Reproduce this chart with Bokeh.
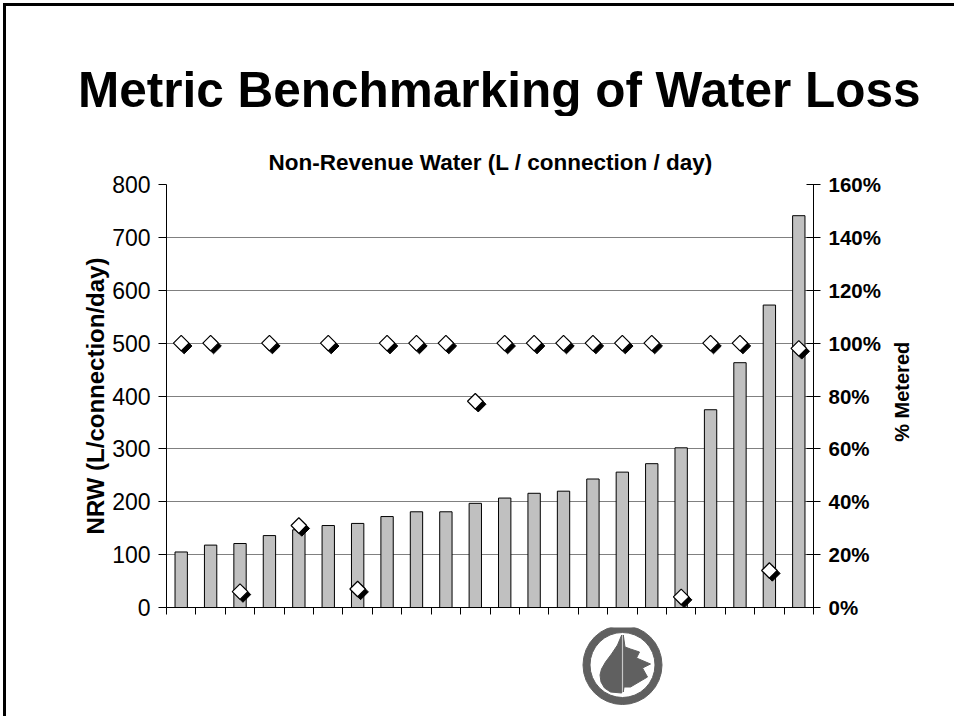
import math
import numpy as np
from bokeh.plotting import figure
from bokeh.models import (Range1d, LinearAxis, FixedTicker, ColumnDataSource, Title, Div,
                          PrintfTickFormatter, CustomJSTickFormatter)
from bokeh.core.properties import value
from bokeh.layouts import column, row
from bokeh.transform import dodge
from bokeh.embed import file_html
from bokeh.resources import INLINE

# ---- data ----
nrw = [105, 118, 121, 136, 147, 155, 159, 172, 181, 181, 197,
       207, 216, 220, 243, 256, 272, 302, 374, 463, 572, 741]
metered = [100, 100, 6, 100, 31, 100, 7, 100, 100, 100, 78,
           100, 100, 100, 100, 100, 100, 4, 100, 100, 14, 98]
nrw_ticks = [0, 100, 200, 300, 400, 500, 600, 700, 800]
pct_ticks = [0, 20, 40, 60, 80, 100, 120, 140, 160]

title_text = "Metric Benchmarking of Water Loss"
subtitle_text = "Non-Revenue Water (L / connection / day)"
left_label = "NRW (L/connection/day)"
right_label = "% Metered"

FONT = "Liberation Sans"
n = len(nrw)
src = ColumnDataSource(dict(x=np.arange(n) + 0.5, nrw=nrw, metered=metered))

TW = 948         # full width
TH = 110         # heading block
W = 878          # main figure
SW = TW - W      # strip carrying the right-hand axis title
H = 511
BL, BR, BT, BB = 160, 71, 68, 20

head = Div(text=title_text, width=TW, height=TH, margin=0,
           styles={"font-family": FONT, "font-size": "49.5px", "font-weight": "bold",
                   "color": "black", "line-height": "55px", "white-space": "nowrap",
                   "padding-left": "72px", "padding-top": "56px", "box-sizing": "border-box",
                   "overflow": "hidden"})

yr = Range1d(0, nrw_ticks[-1])
p = figure(width=W, height=H, x_range=Range1d(0, n), y_range=yr,
           output_backend="svg", toolbar_location=None,
           min_border_left=BL, min_border_right=BR, min_border_top=BT, min_border_bottom=BB)
p.outline_line_color = None
p.background_fill_color = "white"
p.border_fill_color = "white"

p.add_layout(Title(text=subtitle_text, align="left", offset=102, text_font=FONT,
                   text_font_size="22.5px", text_font_style="bold", text_color="black",
                   standoff=19), "above")

p.xgrid.grid_line_color = None
p.ygrid.ticker = FixedTicker(ticks=nrw_ticks)
p.ygrid.grid_line_color = "#808080"
p.ygrid.grid_line_width = 1

xa = p.xaxis[0]
xa.ticker = FixedTicker(ticks=list(range(n + 1)))
xa.major_tick_in = 0
xa.major_tick_out = 7
xa.minor_tick_line_color = None
xa.axis_line_color = "black"
xa.major_tick_line_color = "black"
xa.formatter = CustomJSTickFormatter(code="return ''")
xa.major_label_text_font_size = "1px"

ya = p.yaxis[0]
ya.ticker = FixedTicker(ticks=nrw_ticks)
ya.major_tick_in = 0
ya.major_tick_out = 8
ya.minor_tick_line_color = None
ya.axis_line_color = "black"
ya.major_tick_line_color = "black"
ya.major_label_text_font = FONT
ya.major_label_text_font_size = "23px"
ya.major_label_text_color = "black"
ya.major_label_standoff = 8
ya.axis_label = left_label
ya.axis_label_text_font = FONT
ya.axis_label_text_font_size = "24px"
ya.axis_label_text_font_style = "bold"
ya.axis_label_text_color = "black"
ya.axis_label_standoff = 0

p.extra_y_ranges = {"pct": Range1d(0, pct_ticks[-1])}
ra = LinearAxis(y_range_name="pct", ticker=FixedTicker(ticks=pct_ticks),
                formatter=PrintfTickFormatter(format="%d%%"))
ra.major_tick_in = 7
ra.major_tick_out = 7
ra.minor_tick_line_color = None
ra.axis_line_color = "black"
ra.major_tick_line_color = "black"
ra.major_label_text_font = FONT
ra.major_label_text_font_size = "20.5px"
ra.major_label_text_font_style = "bold"
ra.major_label_text_color = "black"
ra.major_label_standoff = 8
p.add_layout(ra, "right")

p.vbar(x="x", top="nrw", width=0.42, source=src, fill_color="#C0C0C0",
       line_color="black", line_width=1)
p.scatter(x=dodge("x", 0.1), y=dodge("metered", -1.1), source=src, y_range_name="pct",
          marker="square", angle=math.pi / 4, size=11, fill_color="black", line_color="black")
p.scatter(x="x", y="metered", source=src, y_range_name="pct",
          marker="square", angle=math.pi / 4, size=11, fill_color="white",
          line_color="black", line_width=1.2)

# ---- strip to the right holding "% Metered" (reads bottom-to-top) ----
side = figure(width=SW, height=H, x_range=Range1d(0, SW), y_range=yr,
              output_backend="svg", toolbar_location=None,
              min_border_left=0, min_border_right=0, min_border_top=BT, min_border_bottom=BB,
              x_axis_location=None, y_axis_location=None, title=None)
side.grid.grid_line_color = None
side.outline_line_color = None
side.text(x=[17], y=[408], text=[right_label], angle=math.pi / 2,
          text_align="center", text_baseline="middle", text_font=value(FONT),
          text_font_size="20px", text_font_style="bold", text_color="black")

# ---- logo (decoration) ----
LH = 89
FW = W - BL - BR
logo = figure(width=W, height=LH, x_range=Range1d(0, FW), y_range=Range1d(0, LH),
              output_backend="svg", toolbar_location=None, min_border=0,
              min_border_left=BL, min_border_right=BR,
              x_axis_location=None, y_axis_location=None, title=None)
logo.grid.grid_line_color = None
logo.outline_line_color = None
logo.background_fill_color = None
cx, cy = 456, 51.5
GREY = "#606060"
logo.annulus(x=cx, y=cy, inner_radius=32.5, outer_radius=39.5, color=GREY,
             inner_radius_units="screen", outer_radius_units="screen")
drop_dx = [-0.8, -5, -11, -17, -21, -22.5, -21.5, -18, -12, -0.8]
drop_dy = [30, 20, 11, 3, -4, -10, -17, -23, -27, -28]
leaf_dx = [0.8, 2.5, 8, 17, 14, 28, 20, 25, 8, 1.5, 0.8]
leaf_dy = [30, 18, 16, 13, 7, 1, -3, -12, -22, -22, -27]
logo.patch([cx + d for d in drop_dx], [cy + d for d in drop_dy], color=GREY)
logo.patch([cx + d for d in leaf_dx], [cy + d for d in leaf_dy], color=GREY)

page = column(head, row(p, side), logo,
              styles={"border-top": "3px solid black", "border-left": "3px solid black",
                      "margin-top": "3px", "margin-left": "3px"})
open("out.html", "w").write(file_html(page, INLINE))
